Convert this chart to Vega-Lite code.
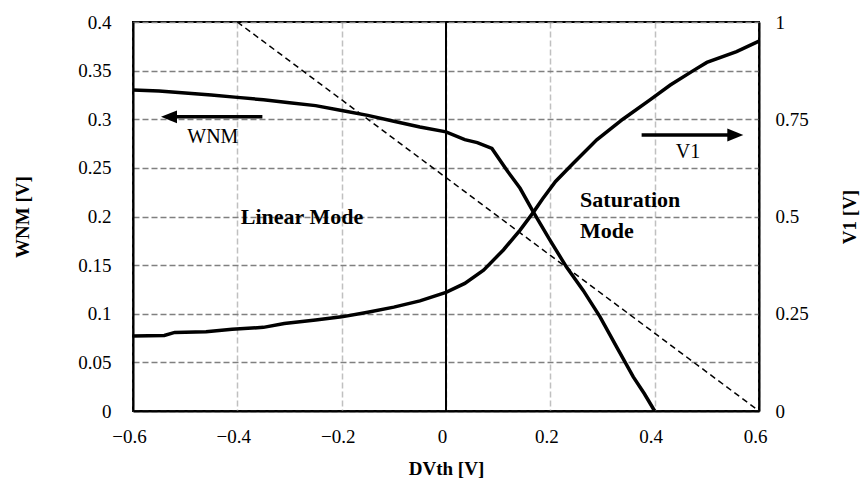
{
  "$schema": "https://vega.github.io/schema/vega-lite/v6.json",
  "autosize": {"type": "none"},
  "width": 626,
  "height": 389,
  "padding": {"left": 133, "top": 22, "right": 108, "bottom": 73},
  "background": "white",
  "config": {
    "view": {"stroke": "black", "strokeWidth": 2},
    "font": "Liberation Serif",
    "axis": {"labelFont": "Liberation Serif", "titleFont": "Liberation Serif", "labelColor": "black", "titleColor": "black", "labelFontSize": 19, "titleFontSize": 19, "titleFontWeight": "bold", "ticks": false, "domainColor": "black", "domainWidth": 2}
  },
  "datasets": {
    "wnm": [
      {"x": -0.6, "y": 0.330}, {"x": -0.55, "y": 0.329}, {"x": -0.5, "y": 0.327}, {"x": -0.45, "y": 0.325},
      {"x": -0.4, "y": 0.3225}, {"x": -0.35, "y": 0.320}, {"x": -0.3, "y": 0.317}, {"x": -0.25, "y": 0.314},
      {"x": -0.2, "y": 0.309}, {"x": -0.15, "y": 0.304}, {"x": -0.1, "y": 0.298}, {"x": -0.05, "y": 0.292},
      {"x": 0, "y": 0.287}, {"x": 0.036, "y": 0.279}, {"x": 0.06, "y": 0.276}, {"x": 0.088, "y": 0.270},
      {"x": 0.116, "y": 0.248}, {"x": 0.142, "y": 0.229}, {"x": 0.167, "y": 0.205}, {"x": 0.199, "y": 0.176},
      {"x": 0.231, "y": 0.148}, {"x": 0.263, "y": 0.124}, {"x": 0.295, "y": 0.097}, {"x": 0.327, "y": 0.066},
      {"x": 0.359, "y": 0.035}, {"x": 0.38, "y": 0.018}, {"x": 0.40, "y": 0.0}
    ],
    "v1": [
      {"x": -0.6, "v": 0.193}, {"x": -0.54, "v": 0.194}, {"x": -0.52, "v": 0.202}, {"x": -0.46, "v": 0.204},
      {"x": -0.41, "v": 0.21}, {"x": -0.35, "v": 0.215}, {"x": -0.31, "v": 0.225}, {"x": -0.25, "v": 0.234},
      {"x": -0.2, "v": 0.242}, {"x": -0.15, "v": 0.254}, {"x": -0.1, "v": 0.267}, {"x": -0.05, "v": 0.283},
      {"x": 0, "v": 0.305}, {"x": 0.036, "v": 0.328}, {"x": 0.072, "v": 0.362}, {"x": 0.11, "v": 0.414},
      {"x": 0.142, "v": 0.465}, {"x": 0.167, "v": 0.51}, {"x": 0.185, "v": 0.545}, {"x": 0.21, "v": 0.59}, {"x": 0.244, "v": 0.637},
      {"x": 0.289, "v": 0.697}, {"x": 0.339, "v": 0.75}, {"x": 0.391, "v": 0.80}, {"x": 0.43, "v": 0.838},
      {"x": 0.474, "v": 0.875}, {"x": 0.5, "v": 0.896}, {"x": 0.557, "v": 0.924}, {"x": 0.6, "v": 0.951}
    ],
    "diag": [{"x": -0.4, "y": 0.4}, {"x": 0.6, "y": 0.0}],
    "vline": [{"x": 0}],
    "plainLabels": [
      {"x": -0.447, "y": 0.282, "text": "WNM"}
    ],
    "boldCenter": [
      {"x": -0.276, "y": 0.2, "text": "Linear Mode"}
    ],
    "boldLeft": [
      {"x": 0.257, "y": 0.217, "text": "Saturation"},
      {"x": 0.257, "y": 0.185, "text": "Mode"}
    ],
    "wnmArrow": [{"x": -0.352, "x2": -0.531, "y": 0.3025}],
    "v1Arrow": [{"x": 0.375, "x2": 0.5546, "v": 0.7095}],
    "v1Label": [{"x": 0.464, "v": 0.667, "text": "V1"}]
  },
  "layer": [
    {
      "layer": [
        {
          "data": {"name": "wnm"},
          "mark": {"type": "line", "color": "black", "strokeWidth": 3.5},
          "encoding": {
            "x": {"field": "x", "type": "quantitative", "scale": {"domain": [-0.6, 0.6], "nice": false, "zero": false, "padding": 0},
              "axis": {"values": [-0.6, -0.4, -0.2, 0, 0.2, 0.4, 0.6], "format": ".1~f", "title": "DVth [V]", "titleX": 313, "titleY": 57, "titleBaseline": "middle", "labelPadding": 16, "labelFlush": false, "labelOffset": -4,
                "grid": true, "gridColor": "#c0c0c0", "gridDash": [6, 3], "gridWidth": 1.5}},
            "y": {"field": "y", "type": "quantitative", "scale": {"domain": [0, 0.4], "nice": false},
              "axis": {"values": [0, 0.05, 0.1, 0.15, 0.2, 0.25, 0.3, 0.35, 0.4], "format": ".2~f", "title": "WNM [V]", "titleX": -111, "titleY": 194.5, "titleAngle": -90, "titleAlign": "center", "titleBaseline": "middle", "labelPadding": 22,
                "grid": true, "gridColor": "#808080", "gridDash": [6, 3], "gridWidth": 1.5}}
          }
        },
        {
          "data": {"name": "diag"},
          "mark": {"type": "line", "color": "black", "strokeWidth": 1.5, "strokeDash": [6, 4]},
          "encoding": {"x": {"field": "x", "type": "quantitative"}, "y": {"field": "y", "type": "quantitative"}}
        },
        {
          "data": {"name": "vline"},
          "mark": {"type": "rule", "color": "black", "strokeWidth": 2},
          "encoding": {"x": {"field": "x", "type": "quantitative"}}
        },
        {
          "data": {"name": "wnmArrow"},
          "mark": {"type": "rule", "color": "black", "strokeWidth": 3.5},
          "encoding": {"x": {"field": "x", "type": "quantitative"}, "x2": {"field": "x2"}, "y": {"field": "y", "type": "quantitative"}}
        },
        {
          "data": {"name": "wnmArrow"},
          "mark": {"type": "point", "shape": "M1,-0.8L-1,0L1,0.8Z", "filled": true, "color": "black", "opacity": 1, "size": 256},
          "encoding": {"x": {"field": "x2", "type": "quantitative"}, "y": {"field": "y", "type": "quantitative"}}
        },
        {
          "data": {"name": "plainLabels"},
          "mark": {"type": "text", "baseline": "middle", "align": "center", "fontSize": 20, "color": "black", "font": "Liberation Serif"},
          "encoding": {"x": {"field": "x", "type": "quantitative"}, "y": {"field": "y", "type": "quantitative"}, "text": {"field": "text"}}
        },
        {
          "data": {"name": "boldCenter"},
          "mark": {"type": "text", "baseline": "middle", "align": "center", "fontSize": 22, "fontWeight": "bold", "color": "black", "font": "Liberation Serif"},
          "encoding": {"x": {"field": "x", "type": "quantitative"}, "y": {"field": "y", "type": "quantitative"}, "text": {"field": "text"}}
        },
        {
          "data": {"name": "boldLeft"},
          "mark": {"type": "text", "baseline": "middle", "align": "left", "fontSize": 22, "fontWeight": "bold", "color": "black", "font": "Liberation Serif"},
          "encoding": {"x": {"field": "x", "type": "quantitative"}, "y": {"field": "y", "type": "quantitative"}, "text": {"field": "text"}}
        }
      ]
    },
    {
      "layer": [
        {
          "data": {"name": "v1"},
          "mark": {"type": "line", "color": "black", "strokeWidth": 3.5},
          "encoding": {
            "x": {"field": "x", "type": "quantitative", "scale": {"domain": [-0.6, 0.6], "nice": false, "zero": false, "padding": 0}},
            "y": {"field": "v", "type": "quantitative", "scale": {"domain": [0, 1], "nice": false},
              "axis": {"orient": "right", "values": [0, 0.25, 0.5, 0.75, 1], "format": ".2~f", "title": "V1 [V]", "titleX": 90, "titleY": 194.5, "titleAngle": -90, "titleAlign": "center", "titleBaseline": "middle", "labelPadding": 16, "grid": false}}
          }
        },
        {
          "data": {"name": "v1Arrow"},
          "mark": {"type": "rule", "color": "black", "strokeWidth": 3.5},
          "encoding": {"x": {"field": "x", "type": "quantitative"}, "x2": {"field": "x2"}, "y": {"field": "v", "type": "quantitative"}}
        },
        {
          "data": {"name": "v1Arrow"},
          "mark": {"type": "point", "shape": "M-1,-0.8L1,0L-1,0.8Z", "filled": true, "color": "black", "opacity": 1, "size": 256},
          "encoding": {"x": {"field": "x2", "type": "quantitative"}, "y": {"field": "v", "type": "quantitative"}}
        },
        {
          "data": {"name": "v1Label"},
          "mark": {"type": "text", "baseline": "middle", "align": "center", "fontSize": 20, "color": "black", "font": "Liberation Serif"},
          "encoding": {"x": {"field": "x", "type": "quantitative"}, "y": {"field": "v", "type": "quantitative"}, "text": {"field": "text"}}
        }
      ]
    }
  ],
  "resolve": {"scale": {"y": "independent"}}
}
